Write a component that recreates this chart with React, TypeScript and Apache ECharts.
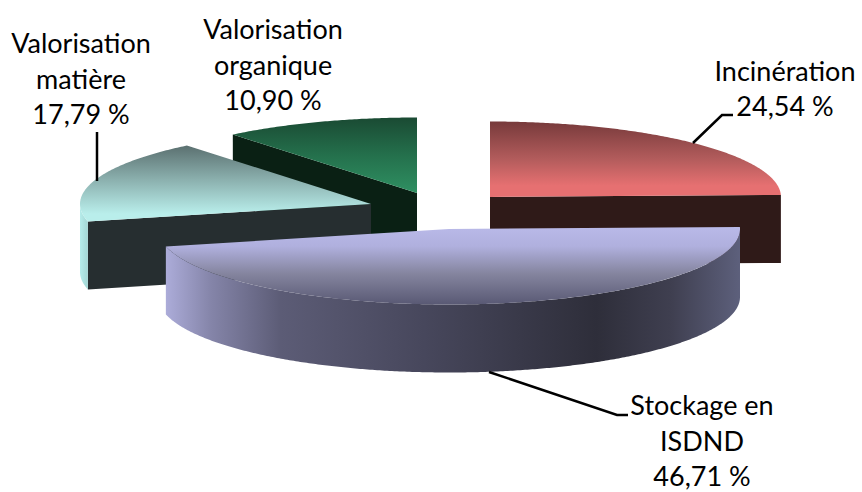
import React, { useEffect, useRef } from "react";
import * as echarts from "echarts";

const categories = ["Incinération", "Stockage en\nISDND", "Valorisation\nmatière", "Valorisation\norganique"];
const values = [24.54, 46.71, 17.79, 10.9];

const RX = 291;
const RY = 75.5;
const DEPTH = 68;
const FONT = "Lato";
const FONT_SIZE = 27;
const LINE_GAP = 35.5;

const centers = [[490, 197], [449, 229], [371, 204], [417, 193]];
const labelPos = [[785, 88], [702, 440], [81, 78], [273, 64]];
const leaders = [
  [[693, 143], [722, 115], [733, 115]],
  [[489, 372], [617, 415], [628, 415]],
  [[97, 132], [97, 181]],
  [],
];
const topStops = [
  [[0, "#773a3b"], [0.5, "#b35c5c"], [0.85, "#e67071"], [1, "#e67071"]],
  [[0, "#b9b9e8"], [0.25, "#b0b0de"], [0.6, "#85859f"], [1, "#595974"]],
  [[0, "#5b7070"], [0.45, "#8bb0ae"], [0.9, "#b9eeeb"], [1, "#b9eeeb"]],
  [[0, "#1a4a33"], [0.5, "#24704c"], [1, "#2f9062"]],
];
const faceColors = ["#2f1a18", "#5b5b78", "#262e30", "#0a2014"];
const wallStops = [
  [[0, "#2f1a18"], [1, "#2f1a18"]],
  [[0, "#acacd9"], [0.08, "#8484a8"], [0.2, "#5c5c76"], [0.45, "#47475c"], [0.75, "#2e2e3a"], [0.88, "#3f3f50"], [1, "#5d607c"]],
  [[0, "#b6ecea"], [1, "#a3d6d4"]],
  [[0, "#0a2014"], [1, "#0a2014"]],
];

const total = values.reduce((a, b) => a + b, 0);
const startAngles: number[] = [];
values.reduce((acc, v) => {
  startAngles.push((acc / total) * 360);
  return acc + v;
}, 0);
const drawOrder = values.map((_, i) => i).sort((a, b) => centers[a][1] - centers[b][1]);

const rad = (d: number) => (d * Math.PI) / 180;
const rim = (c: number[], a: number, dy = 0) => [
  c[0] + RX * Math.sin(rad(a)),
  c[1] - RY * Math.cos(rad(a)) + dy,
];
const gradient = (stops: any[], horizontal = false) =>
  new echarts.graphic.LinearGradient(0, 0, horizontal ? 1 : 0, horizontal ? 0 : 1,
    stops.map(([offset, color]) => ({ offset, color })));
const arc = (c: number[], a0: number, a1: number, dy = 0) => {
  const pts: number[][] = [];
  const n = Math.max(2, Math.ceil(Math.abs(a1 - a0) * 2));
  for (let i = 0; i <= n; i++) pts.push(rim(c, a0 + ((a1 - a0) * i) / n, dy));
  return pts;
};
const edgeVisible = (a: number, sign: number) => {
  const k = RY / RX;
  const ex = Math.sin(rad(a));
  const ey = -k * Math.cos(rad(a));
  if (Math.abs(ex) < 0.01) return false;
  const tx = sign * Math.cos(rad(a));
  const ty = sign * k * Math.sin(rad(a));
  return ty < (ey / ex) * tx;
};

function renderItem(_: any, api: any) {
  const i = api.value(0) as number;
  const c = centers[i];
  const a0 = startAngles[i];
  const a1 = a0 + (values[i] / total) * 360;
  const children: any[] = [];
  const addFace = (a: number) => {
    const p = rim(c, a);
    children.push({
      type: "polygon",
      shape: { points: [c, p, [p[0], p[1] + DEPTH], [c[0], c[1] + DEPTH]] },
      style: { fill: faceColors[i] },
    });
  };
  if (edgeVisible(a0, 1)) addFace(a0);
  if (edgeVisible(a1, -1)) addFace(a1);
  const w0 = Math.max(a0, 90);
  const w1 = Math.min(a1, 270);
  if (w1 > w0) {
    children.push({
      type: "polygon",
      shape: { points: [...arc(c, w0, w1), ...arc(c, w1, w0, DEPTH)] },
      style: { fill: gradient(wallStops[i], true) },
    });
  }
  children.push({
    type: "polygon",
    shape: { points: [c, ...arc(c, a0, a1)] },
    style: { fill: gradient(topStops[i]) },
  });
  if (leaders[i].length) {
    children.push({
      type: "polyline",
      shape: { points: leaders[i] },
      style: { stroke: "#000000", lineWidth: 2.5, fill: "none" },
    });
  }
  const lines = `${categories[i]}\n${values[i].toFixed(2).replace(".", ",")} %`.split("\n");
  lines.forEach((line, n) => {
    children.push({
      type: "text",
      x: labelPos[i][0],
      y: labelPos[i][1] + (n - (lines.length - 1) / 2) * LINE_GAP,
      z2: 10,
      style: {
        text: line,
        fontFamily: FONT,
        fontSize: FONT_SIZE,
        lineHeight: FONT_SIZE,
        fill: "#000000",
        align: "center",
        verticalAlign: "middle",
      },
    });
  });
  return { type: "group", children };
}

export default function App() {
  const ref = useRef<HTMLDivElement>(null);
  useEffect(() => {
    document.body.style.margin = "0";
    const chart = echarts.init(ref.current!, undefined, { renderer: "svg" });
    chart.setOption({
      animation: false,
      backgroundColor: "#ffffff",
      series: [
        {
          type: "custom",
          coordinateSystem: "none",
          silent: true,
          renderItem,
          data: drawOrder.map((i) => [i]),
        },
      ],
    });
    return () => chart.dispose();
  }, []);
  return <div ref={ref} style={{ width: 862, height: 492 }} />;
}
